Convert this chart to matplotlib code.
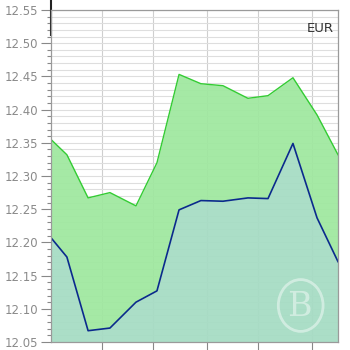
import numpy as np
import matplotlib
matplotlib.use("Agg")
import matplotlib.pyplot as plt
from matplotlib.patches import Circle

# point positions along the x axis (no labels in the original)
x_pos = [0, 0.72, 1.68, 2.67, 3.85, 4.80, 5.80, 6.79, 7.79, 8.92, 9.83, 10.96, 12.05, 13]
sell = [12.355, 12.332, 12.267, 12.275, 12.255, 12.320, 12.453, 12.439,
        12.436, 12.417, 12.421, 12.448, 12.392, 12.332]
buy = [12.207, 12.178, 12.067, 12.071, 12.110, 12.127, 12.249, 12.263,
       12.262, 12.267, 12.266, 12.349, 12.237, 12.171]
x_grid = [2.31, 4.62, 7.07, 9.38, 11.82]
currency = "EUR"

fig = plt.figure(figsize=(3.5, 3.5), dpi=100)
ax = fig.add_axes([51/350, 8/350, 287/350, 332/350])

ymin, ymax = 12.05, 12.55
ax.set_xlim(0, 13)
ax.set_ylim(ymin, ymax)

# grid
ax.set_yticks(np.arange(12.05, 12.551, 0.05))
ax.set_yticks(np.arange(12.05, 12.551, 0.01), minor=True)
ax.set_xticks(x_grid)
ax.set_xticklabels([])
ax.yaxis.grid(True, which="both", color="#dedede", linewidth=0.8)
ax.xaxis.grid(True, color="#cfcfcf", linewidth=0.8)
ax.set_axisbelow(True)

ax.fill_between(x_pos, buy, sell, color="#9ee89e", alpha=0.92, linewidth=0)
ax.fill_between(x_pos, ymin, buy, color="#a6dcc4", alpha=0.94, linewidth=0)
ax.plot(x_pos, sell, color="#33cc33", linewidth=1.0)
ax.plot(x_pos, buy, color="#0a2a8c", linewidth=1.2)

ax.tick_params(axis="y", which="major", length=7, width=0.8, color="#888888",
               labelsize=8.5, labelcolor="#8a8a8a", pad=2)
ax.tick_params(axis="y", which="minor", length=3, width=0.8, color="#888888")
ax.tick_params(axis="x", length=7, width=0.8, color="#888888", direction="out")
ax.set_yticklabels([f"{v:.2f}" for v in np.arange(12.05, 12.551, 0.05)])

for s in ax.spines.values():
    s.set_color("#9a9a9a")
    s.set_linewidth(0.9)

# dark segment at the top of the y axis
ax.plot([0, 0], [1.03, 0.925], transform=ax.transAxes, color="#222222",
        linewidth=1.5, clip_on=False)

ax.text(0.985, 0.965, currency, transform=ax.transAxes, ha="right", va="top",
        fontsize=9.5, color="#333333")

# watermark
ax.add_patch(Circle((0.87, 0.11), 0.078, transform=ax.transAxes,
                    fill=False, edgecolor="white", alpha=0.45, linewidth=2))
ax.text(0.865, 0.105, "B", transform=ax.transAxes, ha="center", va="center",
        fontsize=24, family="DejaVu Serif", color="white", alpha=0.45)

fig.savefig("out.png", dpi=100)
